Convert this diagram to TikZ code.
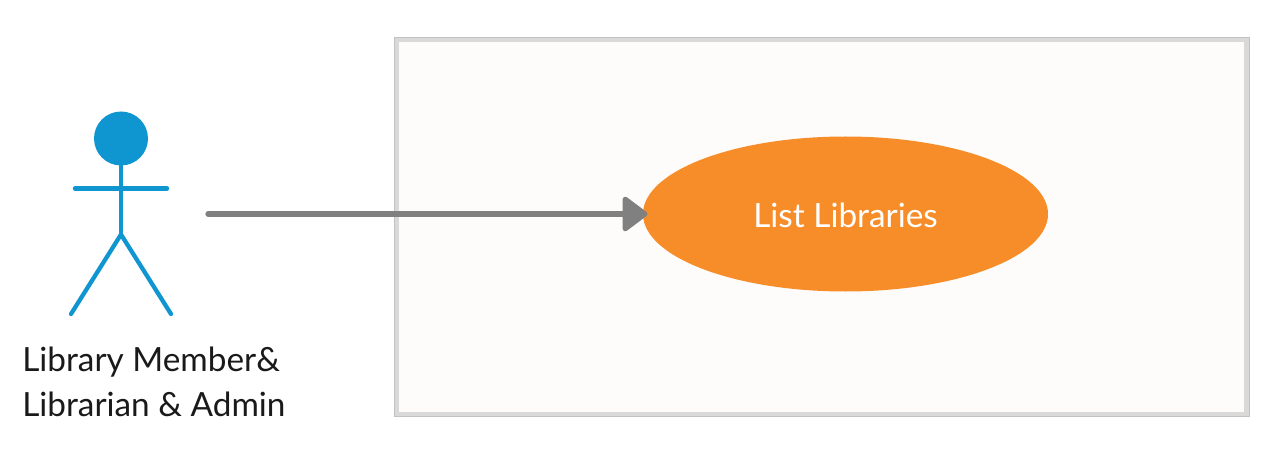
\documentclass[tikz,border=0pt]{standalone}
\usepackage{fontspec}
\setmainfont{Lato}
\usetikzlibrary{shapes.geometric,arrows.meta}
\definecolor{actorblue}{HTML}{0F96D0}
\definecolor{frameg}{HTML}{D9D9D9}
\definecolor{frameo}{HTML}{C2C2C2}
\definecolor{boxbg}{HTML}{FEFCFA}
\definecolor{ucorange}{HTML}{F78D29}
\definecolor{arrowg}{HTML}{808080}
\definecolor{txt}{HTML}{1A1A1A}
\begin{document}
\begin{tikzpicture}[x=0.75pt,y=-0.75pt,
 limb/.style={draw=actorblue,line width=3.2pt,line cap=round},
 lbl/.style={text=txt,font=\fontsize{25}{33.7}\selectfont,align=left,inner sep=0pt,anchor=north west},
 conn/.style={draw=arrowg,line width=3.9pt,line cap=round,shorten >=-3.5pt,-{Triangle[length=20pt,width=29pt,round]}}]
\useasboundingbox (0,0) rectangle (1276,452);
\fill[white] (0,0) rectangle (1276,452);
\node[draw=frameo,fill=frameg,line width=0.8pt,minimum width=855*0.75pt,minimum height=379*0.75pt,inner sep=0pt,anchor=north west] (sysout) at (393.5,37) {};
\node[fill=boxbg,minimum width=845*0.75pt,minimum height=370*0.75pt,inner sep=0pt,anchor=north west] (sys) at (398.5,41.5) {};
\node[ellipse,fill=ucorange,minimum width=405*0.75pt,minimum height=155*0.75pt,inner sep=0pt,text=white,text height=21pt,text depth=0pt,font=\fontsize{25}{30}\selectfont] (uc) at (845.5,214) {List Libraries};
\node[circle,fill=actorblue,minimum size=54*0.75pt,inner sep=0pt] (head) at (121,138.5) {};
\coordinate (hip) at (121,234.5);
\coordinate (armL) at (75,188.5);
\coordinate (armR) at (167,188.5);
\coordinate (legL) at (71,314);
\coordinate (legR) at (171,314);
\coordinate (start) at (208,214);
\draw[limb] (head) -- (hip);
\draw[limb] (armL) -- (armR);
\draw[limb] (legL) -- (hip) -- (legR);
\draw[conn] (start) -- (uc.west);
\node[lbl] (actor) at (22,347) {Library Member\&\\Librarian \& Admin};
\end{tikzpicture}
\end{document}
